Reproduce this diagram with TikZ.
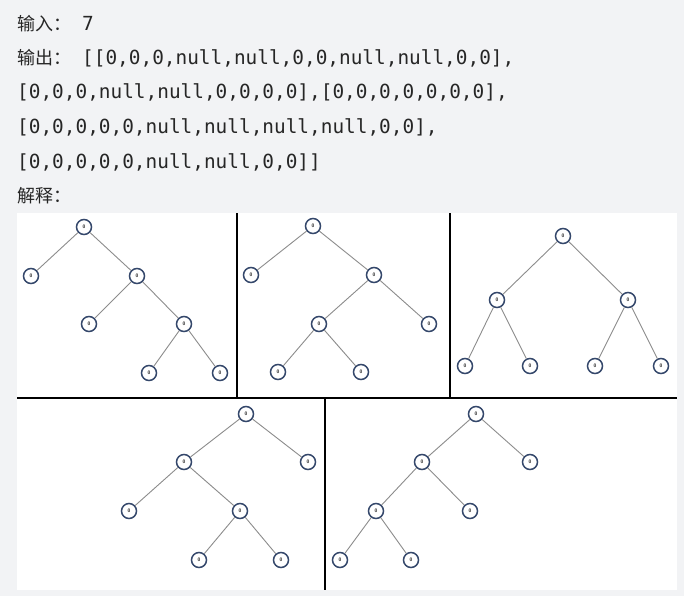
\documentclass[tikz,border=0pt]{standalone}
\usepackage{fontspec}
\setmonofont{DejaVu Sans Mono}
\newfontfamily\cjkfont{Noto Sans CJK SC}
\usetikzlibrary{positioning}

\definecolor{pagebg}{HTML}{F2F3F5}
\definecolor{nodeline}{HTML}{34476B}
\definecolor{edgegray}{HTML}{8C8C8C}
\definecolor{textdark}{HTML}{262626}

\tikzset{
    tnode/.style={circle,draw=nodeline,line width=1.5pt,fill=white,minimum size=15pt,inner sep=0pt,
        font=\fontsize{5}{5}\selectfont\sffamily\bfseries,text=textdark},
    tedge/.style={edgegray,line width=0.9pt},
    divider/.style={black,line width=2pt},
    txtline/.style={anchor=base west,inner sep=0pt,text=textdark,font=\fontsize{19.4}{22}\selectfont\ttfamily}
}
\newcommand{\cjklabel}[1]{\makebox[65pt][l]{\cjkfont\fontsize{18}{19}\selectfont #1}}

\begin{document}
\begin{tikzpicture}[x=1pt,y=-1pt]
    \fill[pagebg] (0,0) rectangle (684,596);
    \useasboundingbox (0,0) rectangle (684,596);
    \fill[white] (17,213) rectangle (677,590);

    % text lines
    \node[txtline] (inp) at (17,31) {\cjklabel{输入：}7};
    \node[txtline] (out) at (17,65) {\cjklabel{输出：}[[0,0,0,null,null,0,0,null,null,0,0],};
    \node[txtline] (outb) at (17,99) {[0,0,0,null,null,0,0,0,0],[0,0,0,0,0,0,0],};
    \node[txtline] (outc) at (17,134) {[0,0,0,0,0,null,null,null,null,0,0],};
    \node[txtline] (outd) at (17,168) {[0,0,0,0,0,null,null,0,0]]};
    \node[txtline] (expl) at (17,202) {\cjkfont\fontsize{18}{19}\selectfont 解释：};

    % panel borders
    \draw[divider] (17,398) -- (677,398);
    \draw[divider] (237,213) -- (237,398);
    \draw[divider] (450,213) -- (450,398);
    \draw[divider] (325,398) -- (325,590);

    % tree 1
    \node[tnode] (t1) at (84,227) {0};
    \node[tnode] (t1l) at (31,276) {0};
    \node[tnode] (t1r) at (137,276) {0};
    \node[tnode] (t1rl) at (89,324) {0};
    \node[tnode] (t1rr) at (184,324) {0};
    \node[tnode] (t1rrl) at (149,373) {0};
    \node[tnode] (t1rrr) at (220,373) {0};
    \draw[tedge] (t1) -- (t1l);
    \draw[tedge] (t1) -- (t1r);
    \draw[tedge] (t1r) -- (t1rl);
    \draw[tedge] (t1r) -- (t1rr);
    \draw[tedge] (t1rr) -- (t1rrl);
    \draw[tedge] (t1rr) -- (t1rrr);

    % tree 2
    \node[tnode] (t2) at (313,226) {0};
    \node[tnode] (t2l) at (251,275) {0};
    \node[tnode] (t2r) at (374,275) {0};
    \node[tnode] (t2rl) at (319,324) {0};
    \node[tnode] (t2rr) at (429,324) {0};
    \node[tnode] (t2rll) at (278,372) {0};
    \node[tnode] (t2rlr) at (361,372) {0};
    \draw[tedge] (t2) -- (t2l);
    \draw[tedge] (t2) -- (t2r);
    \draw[tedge] (t2r) -- (t2rl);
    \draw[tedge] (t2r) -- (t2rr);
    \draw[tedge] (t2rl) -- (t2rll);
    \draw[tedge] (t2rl) -- (t2rlr);

    % tree 3
    \node[tnode] (t3) at (563,236) {0};
    \node[tnode] (t3l) at (497,300) {0};
    \node[tnode] (t3r) at (628,300) {0};
    \node[tnode] (t3ll) at (465,366) {0};
    \node[tnode] (t3lr) at (530,366) {0};
    \node[tnode] (t3rl) at (595,366) {0};
    \node[tnode] (t3rr) at (661,366) {0};
    \draw[tedge] (t3) -- (t3l);
    \draw[tedge] (t3) -- (t3r);
    \draw[tedge] (t3l) -- (t3ll);
    \draw[tedge] (t3l) -- (t3lr);
    \draw[tedge] (t3r) -- (t3rl);
    \draw[tedge] (t3r) -- (t3rr);

    % tree 4
    \node[tnode] (t4) at (246,414) {0};
    \node[tnode] (t4l) at (184,462) {0};
    \node[tnode] (t4r) at (308,462) {0};
    \node[tnode] (t4ll) at (129,511) {0};
    \node[tnode] (t4lr) at (240,511) {0};
    \node[tnode] (t4lrl) at (199,560) {0};
    \node[tnode] (t4lrr) at (281,560) {0};
    \draw[tedge] (t4) -- (t4l);
    \draw[tedge] (t4) -- (t4r);
    \draw[tedge] (t4l) -- (t4ll);
    \draw[tedge] (t4l) -- (t4lr);
    \draw[tedge] (t4lr) -- (t4lrl);
    \draw[tedge] (t4lr) -- (t4lrr);

    % tree 5
    \node[tnode] (t5) at (476,414) {0};
    \node[tnode] (t5l) at (422,462) {0};
    \node[tnode] (t5r) at (530,462) {0};
    \node[tnode] (t5ll) at (376,511) {0};
    \node[tnode] (t5lr) at (470,511) {0};
    \node[tnode] (t5lll) at (340,560) {0};
    \node[tnode] (t5llr) at (411,560) {0};
    \draw[tedge] (t5) -- (t5l);
    \draw[tedge] (t5) -- (t5r);
    \draw[tedge] (t5l) -- (t5ll);
    \draw[tedge] (t5l) -- (t5lr);
    \draw[tedge] (t5ll) -- (t5lll);
    \draw[tedge] (t5ll) -- (t5llr);
\end{tikzpicture}
\end{document}
